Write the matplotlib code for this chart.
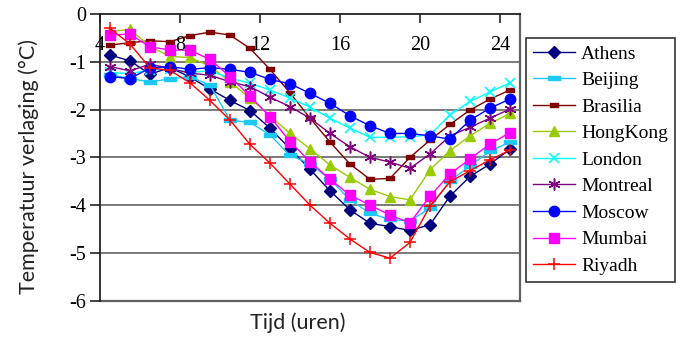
import matplotlib
matplotlib.use("Agg")
import matplotlib.pyplot as plt
from matplotlib.path import Path

# hour of day (bin centres)
hours = [4.5, 5.5, 6.5, 7.5, 8.5, 9.5, 10.5, 11.5, 12.5, 13.5, 14.5,
         15.5, 16.5, 17.5, 18.5, 19.5, 20.5, 21.5, 22.5, 23.5, 24.5]

athens = [-0.86, -0.98, -1.26, -1.12, -1.32, -1.57, -1.81, -2.02, -2.39, -2.82, -3.25,
          -3.70, -4.10, -4.38, -4.45, -4.53, -4.41, -3.81, -3.40, -3.14, -2.83]
beijing = [-1.27, -1.35, -1.42, -1.36, -1.31, -1.49, -2.22, -2.27, -2.53, -2.96, -3.13,
           -3.46, -3.89, -4.17, -4.30, -4.33, -4.06, -3.49, -3.18, -2.87, -2.68]
brasilia = [-0.65, -0.60, -0.56, -0.58, -0.45, -0.38, -0.44, -0.72, -1.16, -1.65, -2.18,
            -2.68, -3.14, -3.46, -3.44, -3.00, -2.64, -2.31, -2.01, -1.78, -1.59]
hongkong = [-0.37, -0.32, -0.68, -0.89, -0.91, -1.09, -1.42, -1.76, -2.13, -2.50, -2.82,
            -3.16, -3.42, -3.67, -3.82, -3.89, -3.26, -2.86, -2.55, -2.29, -2.08]
london = [-1.22, -1.25, -1.17, -1.15, -1.22, -1.19, -1.34, -1.45, -1.59, -1.76, -1.95,
          -2.18, -2.39, -2.58, -2.58, -2.57, -2.53, -2.11, -1.83, -1.63, -1.44]
montreal = [-1.10, -1.19, -1.05, -1.14, -1.24, -1.28, -1.42, -1.52, -1.74, -1.94, -2.18,
            -2.50, -2.78, -3.00, -3.10, -3.23, -2.93, -2.55, -2.37, -2.18, -1.99]
moscow = [-1.31, -1.35, -1.13, -1.10, -1.16, -1.12, -1.16, -1.22, -1.37, -1.46, -1.66,
          -1.87, -2.13, -2.34, -2.50, -2.50, -2.55, -2.62, -2.22, -1.97, -1.78]
mumbai = [-0.44, -0.42, -0.69, -0.75, -0.76, -0.95, -1.31, -1.72, -2.15, -2.67, -3.09,
          -3.46, -3.79, -4.00, -4.21, -4.37, -3.81, -3.35, -3.03, -2.72, -2.48]
riyadh = [-0.30, -0.63, -1.13, -1.18, -1.44, -1.81, -2.22, -2.73, -3.12, -3.56, -4.00,
          -4.38, -4.71, -4.99, -5.11, -4.78, -4.02, -3.51, -3.28, -3.05, -2.85]

cities = ["Athens", "Beijing", "Brasilia", "HongKong", "London",
          "Montreal", "Moscow", "Mumbai", "Riyadh"]
series = [athens, beijing, brasilia, hongkong, london,
          montreal, moscow, mumbai, riyadh]

x_ticks = [4, 8, 12, 16, 20, 24]
y_ticks = [0, -1, -2, -3, -4, -5, -6]

# flat bar markers
wide_bar = Path([(-1, -0.42), (1, -0.42), (1, 0.42), (-1, 0.42), (-1, -0.42)],
                [Path.MOVETO, Path.LINETO, Path.LINETO, Path.LINETO, Path.CLOSEPOLY])
small_bar = Path([(-1, -0.55), (1, -0.55), (1, 0.55), (-1, 0.55), (-1, -0.55)],
                 [Path.MOVETO, Path.LINETO, Path.LINETO, Path.LINETO, Path.CLOSEPOLY])

styles = [
    dict(color="#000080", marker="D", ms=6.0),
    dict(color="#1EC8F5", marker=wide_bar, ms=8.5),
    dict(color="#800000", marker=small_bar, ms=5.5),
    dict(color="#99CC00", marker="^", ms=7.5),
    dict(color="#00FFFF", marker="x", ms=7.5, mew=1.2),
    dict(color="#800080", marker=(6, 2, 0), ms=8.5, mew=1.1),
    dict(color="#0000FF", marker="o", ms=7.5),
    dict(color="#FF00FF", marker="s", ms=7.5),
    dict(color="#FF0000", marker="+", ms=9, mew=1.1),
]

serif = "Liberation Serif"
sans = "Lato"
plt.rcParams["font.family"] = [serif, "DejaVu Serif"]

fig = plt.figure(figsize=(6.92, 3.40), dpi=100)
ax = fig.add_axes([100 / 692, 1 - 300.7 / 340, 420 / 692, 286.7 / 340])

# horizontal grid
for yv in [-1, -2, -3, -4, -5]:
    ax.axhline(yv, color="#707070", lw=1.3, zorder=1)
ax.axhline(-6, color="#606060", lw=1.6, zorder=1, clip_on=False)

handles = []
for name, vals, st in zip(cities, series, styles):
    h, = ax.plot(hours, vals, color=st["color"], lw=1.0, marker=st["marker"],
                 ms=st["ms"], mew=st.get("mew", 1.0), mfc=st["color"],
                 mec=st["color"], label=name, zorder=2)
    handles.append(h)

ax.set_xlim(4, 25)
ax.set_ylim(-6, 0)

# x axis sits at y = 0
ax.spines["bottom"].set_position(("data", 0))
ax.spines["bottom"].set_color("#222222")
ax.spines["bottom"].set_linewidth(1.3)
ax.spines["top"].set_visible(False)
ax.spines["left"].set_color("#222222")
ax.spines["left"].set_linewidth(1.3)
ax.spines["right"].set_color("#606060")
ax.spines["right"].set_linewidth(1.6)
ax.set_axisbelow(False)

ax.set_xticks(x_ticks)
ax.set_xticklabels([str(v) for v in x_ticks], fontfamily=serif, fontsize=14.5)
ax.tick_params(axis="x", direction="out", length=6.5, width=1.2, pad=9.5,
               color="#222222")
ax.set_yticks(y_ticks)
ax.set_yticklabels([str(v) if v == 0 else "-%d" % (-v) for v in y_ticks],
                   fontfamily=serif, fontsize=14.5)
ax.tick_params(axis="y", direction="out", length=7, width=1.2, pad=3,
               color="#222222")

fig.text(298 / 692, 1 - 323 / 340, "Tijd (uren)", ha="center", va="center",
         fontfamily=sans, fontsize=15.5, color="#222222")
fig.text(29 / 692, 1 - 167 / 340, "Temperatuur verlaging (°C)", ha="center",
         va="center", rotation=90, fontfamily=sans, fontsize=15.5, color="#222222")

leg = fig.legend(handles=handles, loc="upper left",
                 bbox_to_anchor=(526 / 692, 1 - 38.3 / 340),
                 prop={"family": serif, "size": 14},
                 frameon=True, fancybox=False, edgecolor="black",
                 handlelength=2.2, handletextpad=0.3, labelspacing=0.46,
                 borderpad=0.34, borderaxespad=0)
leg.get_frame().set_linewidth(1.2)

fig.savefig("out.png", dpi=100)
